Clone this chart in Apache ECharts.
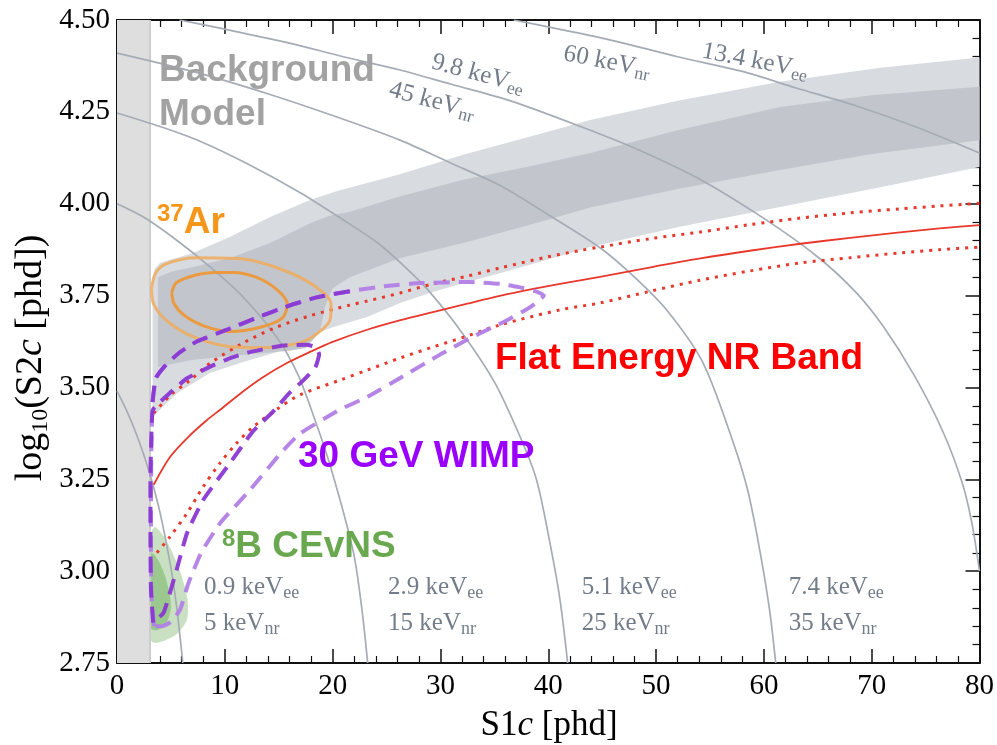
<!DOCTYPE html>
<html>
<head>
<meta charset="utf-8">
<script src="https://cdn.jsdelivr.net/npm/echarts@6/dist/echarts.min.js"></script>
<style>
  html, body { margin: 0; padding: 0; background: #fff; }
  #chart { width: 997px; height: 745px; }
</style>
</head>
<body>
<div id="chart"></div>
<script>
// S1c [phd] on x, log10(S2c [phd]) on y

// Axis ranges and ticks
const xRange = [0, 80];
const yRange = [2.75, 4.5];
const xStep = 10;
const yStep = 0.25;

// S1 analysis threshold (shaded strip)
const s1Threshold = 3.06;

// Background model bands (upper and lower edges, left to right)
const bgOuterUpper = [[3.3,3.80],[3.5,3.822],[4.0,3.839],[7.05,3.866],[10.5,3.91],[14.2,3.964],[17.9,4.01],[20.5,4.035],[26.25,4.08],[32.1,4.133],[38,4.18],[43.9,4.228],[52,4.28],[61.5,4.332],[70.8,4.37],[80,4.398]];
const bgOuterLower = [[3.3,3.42],[5.6,3.485],[8.6,3.539],[11.7,3.569],[14.8,3.596],[17,3.629],[20,3.664],[23.2,3.692],[26.25,3.73],[29.3,3.76],[32.5,3.787],[35.5,3.811],[41.1,3.858],[43.9,3.882],[52.2,3.937],[61.5,3.991],[70.8,4.045],[80,4.10]];
const bgInnerUpper = [[3.8,3.80],[5,3.815],[7.05,3.828],[10.5,3.852],[14.2,3.893],[17.9,3.947],[19.8,3.968],[21.6,3.978],[26.3,4.02],[32.1,4.065],[38,4.10],[43.9,4.138],[52,4.20],[61.5,4.263],[70,4.295],[80,4.318]];
const bgInnerLower = [[3.8,3.556],[7.05,3.575],[12.3,3.59],[16,3.60],[17.5,3.607],[18.8,3.65],[19.3,3.72],[20,3.77],[21.6,3.80],[26.3,3.852],[32.1,3.893],[38,3.94],[43.9,3.99],[52,4.04],[61.5,4.092],[70,4.135],[80,4.173]];

// Iso-energy contours
const iso5nr  = [[0,3.49],[1,3.43],[2,3.357],[3,3.269],[4,3.158],[5,3.009],[5.5,2.91],[6,2.78],[6.1,2.75]];
const iso15nr = [[0,4.0],[2.5,3.963],[5.57,3.90],[8.63,3.828],[11.7,3.746],[14.8,3.637],[16.7,3.54],[18.2,3.425],[19.8,3.285],[21.9,3.055],[22.7,2.90],[23.25,2.75]];
const iso25nr = [[0,4.247],[4,4.21],[7.7,4.17],[12,4.11],[17,4.03],[20.5,3.965],[24.1,3.895],[27,3.82],[29,3.76],[32.1,3.645],[35,3.515],[37.4,3.365],[38.9,3.25],[40.2,3.07],[41.1,2.92],[41.8,2.75]];
const iso35nr = [[0,4.41],[7,4.36],[13.9,4.30],[20,4.24],[26.25,4.173],[31,4.11],[35.5,4.05],[40,3.97],[44.8,3.88],[48,3.80],[51,3.71],[54.3,3.57],[57.1,3.355],[58.5,3.22],[59.6,3.06],[60.5,2.90],[61.1,2.75]];
const iso45nr = [[5.8,4.5],[10,4.475],[16,4.437],[21,4.40],[26.25,4.364],[31,4.325],[36.5,4.28],[43,4.21],[48.5,4.145],[54.1,4.066],[60,3.96],[65,3.855],[68.5,3.76],[71.1,3.665],[74,3.53],[76.6,3.38],[78.4,3.24],[79.3,3.13],[80,3.0]];
const iso60nr = [[36.8,4.5],[41,4.475],[45.7,4.446],[52,4.40],[58,4.36],[63,4.315],[68.6,4.266],[74,4.21],[80,4.138]];

// Flat-energy NR band: median and 10%/90% lines
const nrMedian = [[3.4,3.235],[4.9,3.31],[6.6,3.365],[8.3,3.41],[9.6,3.44],[11.6,3.487],[13.5,3.527],[15.8,3.567],[18,3.598],[20,3.624],[23.2,3.657],[26.3,3.683],[29.3,3.705],[32.5,3.728],[35.5,3.749],[38.6,3.768],[41.1,3.782],[44.8,3.801],[49.5,3.827],[54.1,3.851],[58.7,3.872],[63.4,3.891],[68,3.907],[72.6,3.922],[76.3,3.933],[80,3.942]];
const nrUpper  = [[3.4,3.43],[5,3.48],[6.8,3.52],[8.6,3.565],[11.7,3.621],[14.8,3.664],[17.9,3.695],[21.6,3.724],[23.2,3.735],[26.25,3.757],[29.3,3.782],[32.5,3.803],[35.5,3.825],[39.9,3.855],[43,3.873],[44.8,3.882],[49.5,3.905],[54.1,3.923],[58.7,3.943],[63.4,3.961],[68,3.975],[72.6,3.986],[76.3,3.994],[80,4.001]];
const nrLower  = [[3.7,3.05],[4.9,3.093],[6.5,3.158],[8,3.23],[9.55,3.294],[11,3.345],[12.6,3.392],[14.8,3.44],[17,3.48],[20.7,3.52],[23.2,3.547],[26.25,3.58],[29.3,3.61],[32.5,3.64],[35.5,3.67],[41.1,3.711],[44.8,3.73],[49.5,3.762],[54.1,3.792],[58.7,3.817],[63.4,3.839],[68,3.853],[72.6,3.866],[76.3,3.875],[80,3.882]];

// 37Ar contours
const ar37Inner = [[5.07,3.757],[5.5,3.785],[7.3,3.806],[9,3.813],[10.8,3.813],[12.9,3.80],[14.8,3.767],[15.8,3.727],[15.3,3.688],[13.2,3.663],[10.6,3.652],[8.1,3.667],[6.2,3.697],[5.3,3.728],[5.07,3.757]];
const ar37Outer = [[3.2,3.77],[3.6,3.812],[4.6,3.837],[7.4,3.853],[11.5,3.85],[15.1,3.823],[18.3,3.777],[19.85,3.727],[19.8,3.688],[18.8,3.652],[17,3.622],[13.3,3.608],[10.2,3.612],[7.05,3.638],[4.6,3.682],[3.4,3.727],[3.2,3.77]];

// 30 GeV WIMP contours
const wimpInner = [[3.35,2.86],[3.15,2.95],[3.1,3.1],[3.1,3.25],[3.2,3.38],[3.35,3.44],[4.9,3.485],[6.5,3.525],[8.6,3.556],[10.5,3.58],[12.3,3.596],[15.4,3.614],[17.5,3.616],[18.4,3.61],[18.75,3.59],[18.4,3.555],[17.3,3.52],[16.0,3.485],[14.5,3.435],[12.6,3.38],[10.2,3.283],[8.0,3.194],[6.5,3.104],[5.6,3.011],[4.9,2.94],[4.3,2.886],[3.35,2.86]];
const wimpOuter = [[3.45,2.85],[3.2,2.93],[3.15,3.05],[3.15,3.2],[3.2,3.35],[3.3,3.46],[3.6,3.525],[4.5,3.56],[5.8,3.595],[7.4,3.625],[10.2,3.657],[12.8,3.688],[15.9,3.722],[18.5,3.745],[21.6,3.762],[25,3.776],[28.1,3.784],[32.7,3.787],[35.5,3.782],[37.3,3.773],[38.7,3.763],[39.6,3.75],[38.4,3.72],[36,3.68],[33,3.638],[30,3.59],[26.5,3.53],[23.2,3.474],[20.7,3.44],[17,3.375],[15.3,3.325],[12.3,3.22],[9.55,3.13],[7.8,3.05],[6.6,2.965],[5.85,2.895],[5.0,2.862],[4.2,2.85],[3.45,2.85]];

// 8B CEvNS regions
const b8Outer = [[3.06,3.09],[3.5,3.12],[4.2,3.10],[4.9,3.066],[5.84,3.0],[6.5,2.93],[6.5,2.87],[5.6,2.83],[4.5,2.812],[3.4,2.805],[3.06,2.82]];
const b8Inner = [[3.1,3.05],[3.6,3.04],[4.3,3.0],[4.8,2.95],[5.0,2.90],[4.6,2.86],[3.8,2.84],[3.1,2.845]];

// Energy labels for the iso-energy contours
const eeLabels = ['0.9', '2.9', '5.1', '7.4', '9.8', '13.4'];
const nrLabels = ['5', '15', '25', '35', '45', '60'];

// ---------------------------------------------------------------
const SERIF = '"Liberation Serif", "Times New Roman", serif';
const SANS = '"Liberation Sans", Arial, sans-serif';
const GRAY_TXT = '#737c89';
const CURVE = '#a6acb5';
const RED = '#e8382c';

function fill(points, color, smooth) {
  return {
    type: 'custom', silent: true, clip: true,
    data: [points[0]],
    renderItem: (params, api) => ({
      type: 'polygon',
      shape: { points: points.map(p => api.coord(p)), smooth: smooth || 0 },
      style: { fill: color }
    })
  };
}
function line(points, style, smooth) {
  return {
    type: 'line', silent: true, clip: true, symbol: 'none',
    smooth: smooth || 0, data: points, lineStyle: style
  };
}

const bgOuter = bgOuterUpper.concat(bgOuterLower.slice().reverse());
const bgInner = bgInnerUpper.concat(bgInnerLower.slice().reverse());
const strip = [[xRange[0], yRange[0]], [s1Threshold, yRange[0]], [s1Threshold, yRange[1]], [xRange[0], yRange[1]]];

const axisBase = {
  type: 'value',
  axisLine: { show: true, onZero: false, lineStyle: { color: '#111', width: 2 } },
  axisTick: { show: true, inside: true, length: 14, lineStyle: { color: '#111', width: 1.5 } },
  minorTick: { show: true, splitNumber: 5, length: 7, lineStyle: { color: '#111', width: 1.2 } },
  splitLine: { show: false },
  minorSplitLine: { show: false }
};
const labelStyle = { fontFamily: SERIF, fontSize: 29, color: '#000', showMinLabel: true, showMaxLabel: true };

const purpleDark = { color: 'rgba(137,56,210,0.95)', width: 4, type: [16, 9] };
const purpleLight = { color: 'rgba(178,128,230,0.95)', width: 4, type: [16, 9] };

const option = {
  animation: false,
  grid: { left: 117, right: 17, top: 20, bottom: 82 },
  xAxis: [
    Object.assign({}, axisBase, { min: xRange[0], max: xRange[1], interval: xStep, position: 'bottom',
      axisLabel: Object.assign({ margin: 9 }, labelStyle) }),
    Object.assign({}, axisBase, { min: xRange[0], max: xRange[1], interval: xStep, position: 'top',
      axisLabel: { show: false } })
  ],
  yAxis: [
    Object.assign({}, axisBase, { min: yRange[0], max: yRange[1], interval: yStep, position: 'left',
      axisLabel: Object.assign({ margin: 7, formatter: v => v.toFixed(2) }, labelStyle) }),
    Object.assign({}, axisBase, { min: yRange[0], max: yRange[1], interval: yStep, position: 'right',
      axisLabel: { show: false } })
  ],
  series: [
    fill(strip, '#dedede'),
    line([[s1Threshold, yRange[0]], [s1Threshold, yRange[1]]], { color: '#cdcdcd', width: 2 }),
    fill(bgOuter, '#d8dbe0'),
    fill(bgInner, '#c2c6cc'),
    fill(b8Outer, 'rgba(100,170,80,0.35)', 0.3),
    fill(b8Inner, 'rgba(100,170,80,0.45)', 0.3),
    line(iso5nr, { color: CURVE, width: 1.7 }, 0.3),
    line(iso15nr, { color: CURVE, width: 1.7 }, 0.3),
    line(iso25nr, { color: CURVE, width: 1.7 }, 0.3),
    line(iso35nr, { color: CURVE, width: 1.7 }, 0.3),
    line(iso45nr, { color: CURVE, width: 1.7 }, 0.3),
    line(iso60nr, { color: CURVE, width: 1.7 }, 0.3),
    line(nrMedian, { color: RED, width: 1.8 }, 0.3),
    line(nrUpper, { color: RED, width: 3, type: [3, 6], cap: 'butt' }, 0.3),
    line(nrLower, { color: RED, width: 3, type: [3, 6], cap: 'butt' }, 0.3),
    line(ar37Outer, { color: 'rgba(240,170,90,0.85)', width: 3 }, 0.3),
    line(ar37Inner, { color: 'rgba(238,150,50,0.9)', width: 3 }, 0.3),
    line(wimpOuter, purpleLight, 0.15),
    line(wimpOuter.slice(5, 15), purpleDark, 0.15),
    line(wimpInner, purpleDark, 0.15)
  ]
};

const chart = echarts.init(document.getElementById('chart'), null, { renderer: 'canvas' });
chart.setOption(option);

// ---- text annotations, placed through the axis scales ----
const toPx = p => chart.convertToPixel({ xAxisIndex: 0, yAxisIndex: 0 }, p);

const serifRich = {
  m: { fontFamily: SERIF, fontSize: 25, fill: GRAY_TXT, lineHeight: 30 },
  s: { fontFamily: SERIF, fontSize: 18, fill: GRAY_TXT, lineHeight: 16, verticalAlign: 'bottom' }
};
function boldRich(color) {
  return {
    big: { fontFamily: SANS, fontWeight: 'bold', fontSize: 37, fill: color, lineHeight: 40 },
    sup: { fontFamily: SANS, fontWeight: 'bold', fontSize: 24, fill: color, lineHeight: 26, verticalAlign: 'top' },
    two: { fontFamily: SANS, fontWeight: 'bold', fontSize: 37, fill: color, lineHeight: 44 }
  };
}
const eeText = i => '{m|' + eeLabels[i] + ' keV}{s|ee}';
const nrText = i => '{m|' + nrLabels[i] + ' keV}{s|nr}';

function note(at, text, rich, align, rotateDeg) {
  const [x, y] = toPx(at);
  return {
    type: 'text', x, y, z: 100, silent: true,
    rotation: (rotateDeg || 0) * Math.PI / 180,
    style: { text, rich, align: align || 'left', verticalAlign: 'middle' }
  };
}

const notes = [
  note([3.9, 4.303], '{two|Background}\n{two|Model}', boldRich('#a2a2a2')),
  note([3.71, 3.949], '{sup|37}{big|Ar}', boldRich('#f5961a')),
  note([35.06, 3.577], '{big|Flat Energy NR Band}', boldRich('#ff0000')),
  note([16.79, 3.31], '{big|30 GeV WIMP}', boldRich('#9900ff')),
  note([9.74, 3.065], '{sup|8}{big|B CEvNS}', boldRich('#6aa84f')),
  note([8.07, 2.955], eeText(0), serifRich), note([8.07, 2.857], nrText(0), serifRich),
  note([25.14, 2.955], eeText(1), serifRich), note([25.14, 2.857], nrText(1), serifRich),
  note([43.1, 2.955], eeText(2), serifRich), note([43.1, 2.857], nrText(2), serifRich),
  note([62.3, 2.955], eeText(3), serifRich), note([62.3, 2.857], nrText(3), serifRich),
  note([33.49, 4.353], eeText(4), serifRich, 'center', -15),
  note([29.22, 4.280], nrText(4), serifRich, 'center', -15),
  note([59.18, 4.388], eeText(5), serifRich, 'center', -11),
  note([45.45, 4.386], nrText(5), serifRich, 'center', -11)
];

// axis titles
notes.push({
  type: 'text', x: 549, y: 726, z: 100, silent: true,
  style: {
    text: '{r|S1}{i|c}{r| [phd]}', align: 'center', verticalAlign: 'middle',
    rich: {
      r: { fontFamily: SERIF, fontSize: 35, fill: '#000' },
      i: { fontFamily: SERIF, fontSize: 35, fontStyle: 'italic', fill: '#000' }
    }
  }
});
notes.push({
  type: 'text', x: 31, y: 358, rotation: Math.PI / 2, z: 100, silent: true,
  style: {
    text: '{r|log}{s|10}{r|(S2}{i|c}{r| [phd])}', align: 'center', verticalAlign: 'middle',
    rich: {
      r: { fontFamily: SERIF, fontSize: 38, fill: '#000', lineHeight: 44 },
      s: { fontFamily: SERIF, fontSize: 24, fill: '#000', lineHeight: 24, verticalAlign: 'bottom' },
      i: { fontFamily: SERIF, fontSize: 38, fontStyle: 'italic', fill: '#000', lineHeight: 44 }
    }
  }
});

chart.setOption({ graphic: notes });
</script>
</body>
</html>
